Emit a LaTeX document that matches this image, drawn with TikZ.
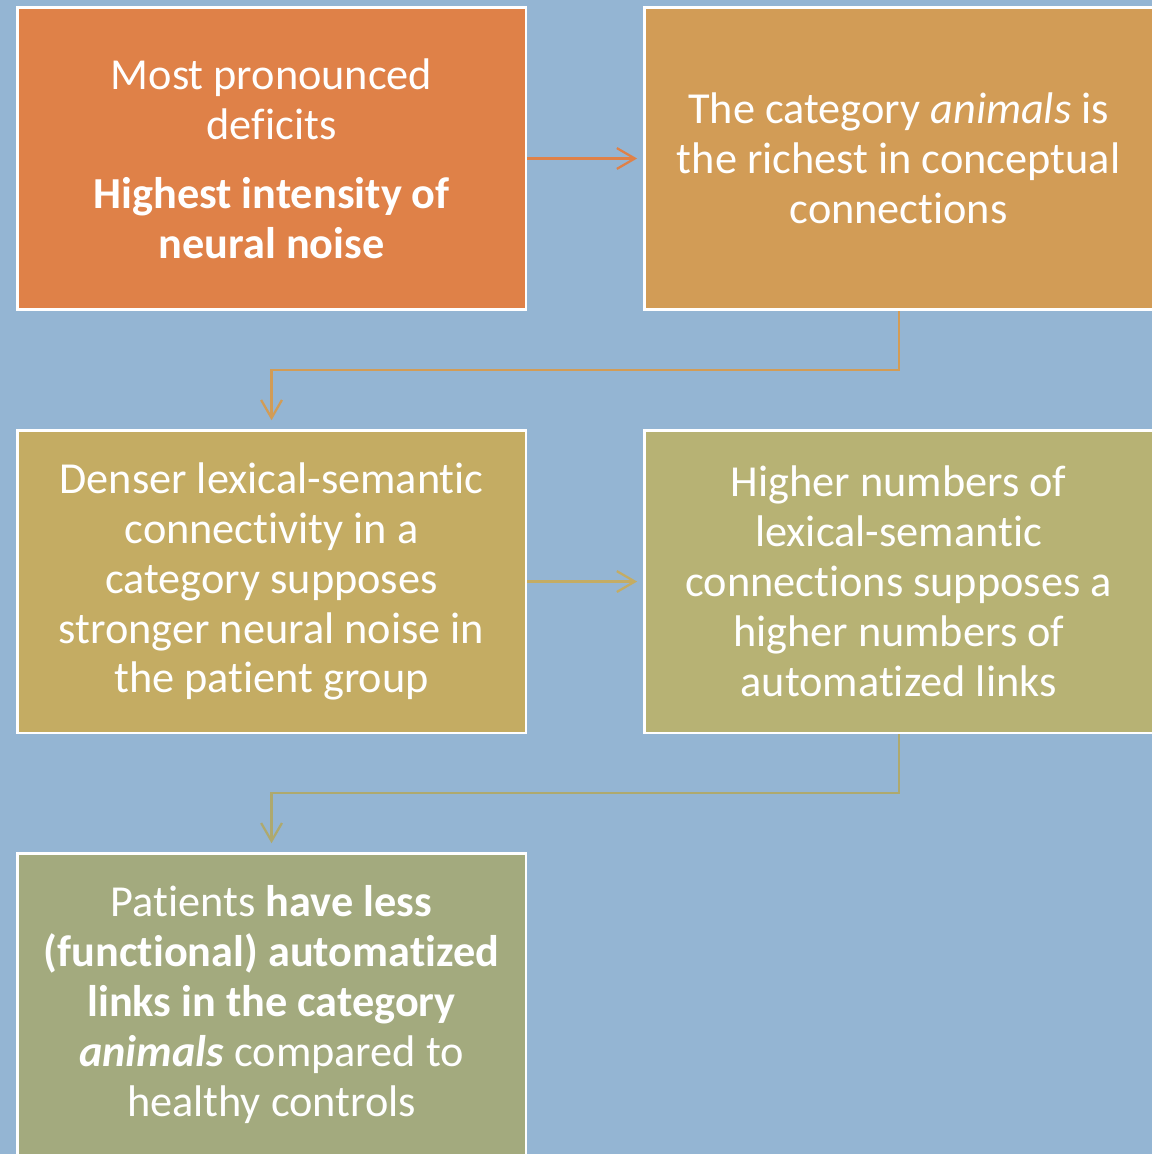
\documentclass[tikz,border=0pt]{standalone}
\usepackage{fontspec}
\setmainfont{Carlito}[Ligatures=NoCommon]
\usetikzlibrary{arrows.meta,positioning}
\definecolor{bgblue}{HTML}{94B5D3}
\definecolor{boxa}{HTML}{DF8148}
\definecolor{boxb}{HTML}{D29C56}
\definecolor{boxc}{HTML}{C4AC63}
\definecolor{boxd}{HTML}{B7B274}
\definecolor{boxe}{HTML}{A3AA7E}
\tikzset{
	box/.style={draw=white, line width=1.8pt, minimum width=12.71cm, minimum height=7.56cm,
		inner sep=0pt, text=white, align=center, font=\fontsize{31.5}{35.5}\selectfont},
	link/.style={line width=1.6pt, -{Straight Barb[length=0.45cm,width=0.52cm]}},
}
\begin{document}
\begin{tikzpicture}[x=0.025cm, y=-0.025cm]
	%background
	\fill[bgblue] (0,0) rectangle (1152,1154);
	\useasboundingbox (0,0) rectangle (1152,1154);
	%boxes
	\node[box, fill=boxa, anchor=north west] (deficits) at (16,6)
	{Most pronounced\\ deficits\\[0.48cm] \textbf{Highest intensity of}\\ \textbf{neural noise}};
	\node[box, fill=boxb, right=2.9cm of deficits] (richest)
	{The category \textit{animals} is\\ the richest in conceptual\\ connections};
	\node[box, fill=boxc, below=2.95cm of deficits] (denser)
	{Denser lexical-semantic\\ connectivity in a\\ category supposes\\ stronger neural noise in\\ the patient group};
	\node[box, fill=boxd, right=2.9cm of denser] (higher)
	{Higher numbers of\\ lexical-semantic\\ connections supposes a\\ higher numbers of\\ automatized links};
	\node[box, fill=boxe, below=2.95cm of denser] (patients)
	{Patients \textbf{have less}\\ \textbf{(functional) automatized}\\ \textbf{links in the category}\\ \textbf{\textit{animals}} compared to\\ healthy controls};
	%arrows
	\draw[link, boxa, shorten >=0.15cm] (deficits) -- (richest);
	\draw[link, boxb, shorten >=0.22cm] (richest.south) -- ++(0,59) -| (denser.north);
	\draw[link, boxc, shorten >=0.15cm] (denser) -- (higher);
	\draw[link, boxd!95!black, shorten >=0.22cm] (higher.south) -- ++(0,59) -| (patients.north);
\end{tikzpicture}
\end{document}
